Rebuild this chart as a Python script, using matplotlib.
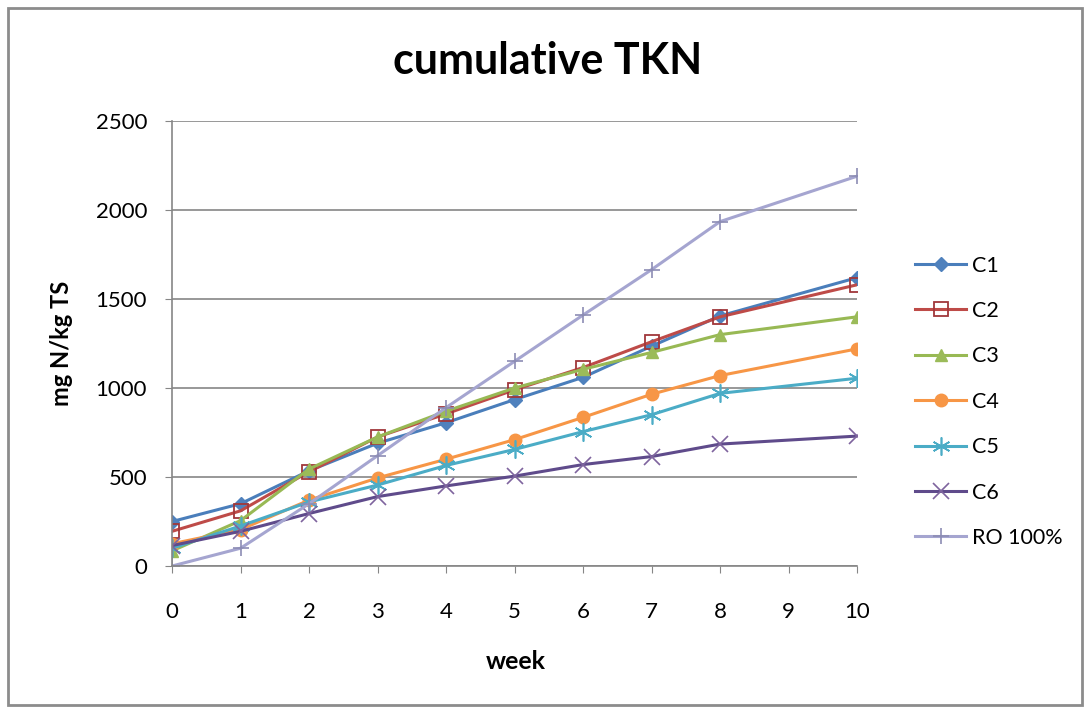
import matplotlib
matplotlib.use("Agg")
import matplotlib.pyplot as plt
from matplotlib.patches import Rectangle

plt.rcParams['font.family'] = ['Lato', 'DejaVu Sans']

# cumulative TKN, mg N/kg TS per week (no reading at week 9)
weeks = [0, 1, 2, 3, 4, 5, 6, 7, 8, 10]
c1 = [250, 350, 535, 690, 805, 935, 1060, 1235, 1405, 1620]
c2 = [195, 310, 530, 725, 855, 990, 1115, 1260, 1400, 1580]
c3 = [85, 255, 545, 725, 870, 1000, 1105, 1200, 1300, 1400]
c4 = [125, 205, 370, 495, 600, 710, 835, 965, 1070, 1220]
c5 = [100, 225, 360, 455, 565, 655, 755, 850, 970, 1055]
c6 = [115, 195, 295, 390, 450, 505, 570, 615, 685, 730]
ro = [0, 100, 350, 620, 890, 1150, 1410, 1665, 1935, 2190]

fig = plt.figure(figsize=(10.84, 7.07), dpi=100)
ax = fig.add_axes([0.1587, 0.1994, 0.6319, 0.6294])

ax.plot(weeks, c1, color='#4A7EBB', lw=2.2, marker='D', ms=7, mfc='#4F81BD', mec='#4F81BD', label='C1')
ax.plot(weeks, c2, color='#BE4B48', lw=2.2, marker='s', ms=10, mfc='none', mec='#A0373A', mew=1.3, label='C2')
ax.plot(weeks, c3, color='#98B954', lw=2.2, marker='^', ms=9, mfc='#9BBB59', mec='#9BBB59', label='C3')
ax.plot(weeks, c4, color='#F79646', lw=2.2, marker='o', ms=9, mfc='#F79646', mec='#F79646', label='C4')
ax.plot(weeks, c5, color='#4BACC6', lw=2.2, marker=(6, 2, 0), ms=13, mec='#4BACC6', mew=1.2, label='C5')
ax.plot(weeks, c6, color='#5F4B8B', lw=2.2, marker='x', ms=11, mec='#7E649E', mew=1.2, label='C6')
ax.plot(weeks, ro, color='#A5A5D0', lw=2.2, marker='+', ms=12, mec='#8C8CB4', mew=1.2, label='RO 100%')

ax.set_xlim(0, 10)
ax.set_ylim(0, 2500)
ax.set_xticks(range(0, 11))
ax.set_yticks(range(0, 2501, 500))
ax.yaxis.grid(True, color='#868686', lw=1.2)
ax.set_axisbelow(True)
for s in ['top', 'right']:
    ax.spines[s].set_visible(False)
for s in ['left', 'bottom']:
    ax.spines[s].set_color('#868686')
    ax.spines[s].set_linewidth(1.2)
ax.tick_params(axis='y', length=5, color='#868686', labelsize=16, pad=13)
ax.tick_params(axis='x', length=5, color='#868686', labelsize=16, pad=21)

fig.text(0.505, 0.914, 'cumulative TKN', ha='center', va='center', fontsize=31, fontweight='bold')
fig.text(0.057, 0.515, 'mg N/kg TS', ha='center', va='center', rotation=90, fontsize=17, fontweight='bold')
fig.text(0.476, 0.064, 'week', ha='center', va='center', fontsize=18, fontweight='bold')

ax.legend(loc='upper left', bbox_to_anchor=(0.826, 0.666), bbox_transform=fig.transFigure,
          frameon=False, fontsize=15.5, handlelength=2.4, handletextpad=0.25, labelspacing=1.18)

fig.patches.append(Rectangle((0.0074, 0.003), 0.9906, 0.9857, transform=fig.transFigure,
                             fill=False, edgecolor='#8C8C8C', lw=2))

fig.savefig('out.png', dpi=100)
